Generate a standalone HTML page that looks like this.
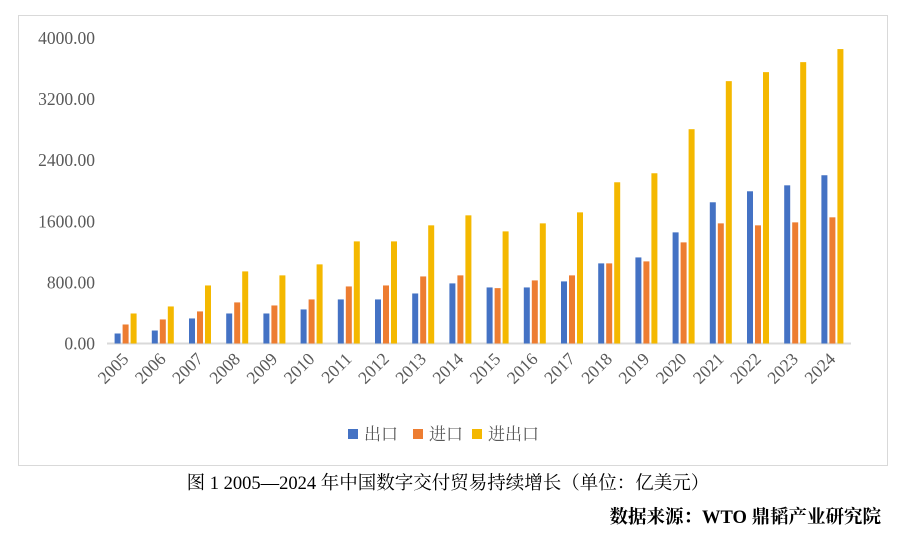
<!DOCTYPE html>
<html><head><meta charset="utf-8"><style>
body{margin:0;background:#fff;width:905px;height:538px;overflow:hidden;font-family:"Liberation Serif","Noto Serif CJK SC",serif}
</style></head><body>
<svg width="905" height="538">
<rect x="18.5" y="15.5" width="869" height="450" fill="#fff" stroke="#d9d9d9"/>
<g id="yaxis"></g>
<line x1="107" y1="343.5" x2="851" y2="343.5" stroke="#d9d9d9" stroke-width="2"/>
<g id="bars"></g>
<g id="xlabels"></g>
<g font-size="17" fill="#595959">
<g><rect x="348" y="429" width="10" height="10" fill="#4472c4"/><text x="364" y="440" fill="#595959">出口</text></g>
<g><rect x="413" y="429" width="10" height="10" fill="#ed7d31"/><text x="429" y="440" fill="#595959">进口</text></g>
<g><rect x="472" y="429" width="10" height="10" fill="#f4b800"/><text x="488" y="440" fill="#595959">进出口</text></g>
</g>
<text x="448" y="489" text-anchor="middle" font-size="18.5" fill="#000">图 1 2005—2024 年中国数字交付贸易持续增长（单位：亿美元）</text>
<text x="881" y="523" text-anchor="end" font-size="18.5" font-weight="bold" fill="#000">数据来源：WTO 鼎韬产业研究院</text>
</svg>
<script>
const years=["2005","2006","2007","2008","2009","2010","2011","2012","2013","2014","2015","2016","2017","2018","2019","2020","2021","2022","2023","2024"];
const exportVals=[131,170,328,393,393,446,577,577,655,787,734,734,813,1049,1127,1455,1849,1993,2071,2203];
const importVals=[249,315,420,538,498,577,747,760,878,892,725,826,892,1049,1075,1324,1573,1547,1586,1652];
const totalVals=[393,485,760,944,892,1036,1337,1337,1547,1678,1468,1573,1717,2111,2229,2806,3435,3553,3684,3855];
const yTicks=[0,800,1600,2400,3200,4000];
const NS="http://www.w3.org/2000/svg";
const x0=107,x1=851,yb=343.5,yt=38;
const y=v=>yb-(v/4000)*(yb-yt);
const step=(x1-x0)/years.length;
const cx=i=>x0+step*(i+0.5);
const ya=document.getElementById('yaxis');
yTicks.forEach(t=>{const e=document.createElementNS(NS,'text');


e.setAttribute('x',95);e.setAttribute('y',y(t)+6);e.setAttribute('text-anchor','end');e.setAttribute('font-size','17.5');e.setAttribute('fill','#595959');e.textContent=t.toFixed(2);ya.appendChild(e);});
const bg=document.getElementById('bars');
const series=[[exportVals,'#4472c4',-8,'bar-export'],[importVals,'#ed7d31',0,'bar-import'],[totalVals,'#f4b800',8,'bar-total']];
years.forEach((yr,i)=>{series.forEach(([vals,col,off,nm])=>{const r=document.createElementNS(NS,'rect');


r.setAttribute('x',cx(i)+off-3);r.setAttribute('width',6);r.setAttribute('y',y(vals[i]));r.setAttribute('height',yb-y(vals[i]));r.setAttribute('fill',col);bg.appendChild(r);});
const t=document.createElementNS(NS,'text');


const ax=cx(i)+4,ay=360;t.setAttribute('x',ax);t.setAttribute('y',ay);t.setAttribute('text-anchor','end');t.setAttribute('font-size','17.5');t.setAttribute('fill','#595959');t.setAttribute('transform','rotate(-45 '+ax+' '+ay+')');t.textContent=yr;document.getElementById('xlabels').appendChild(t);});
</script>
</body></html>
